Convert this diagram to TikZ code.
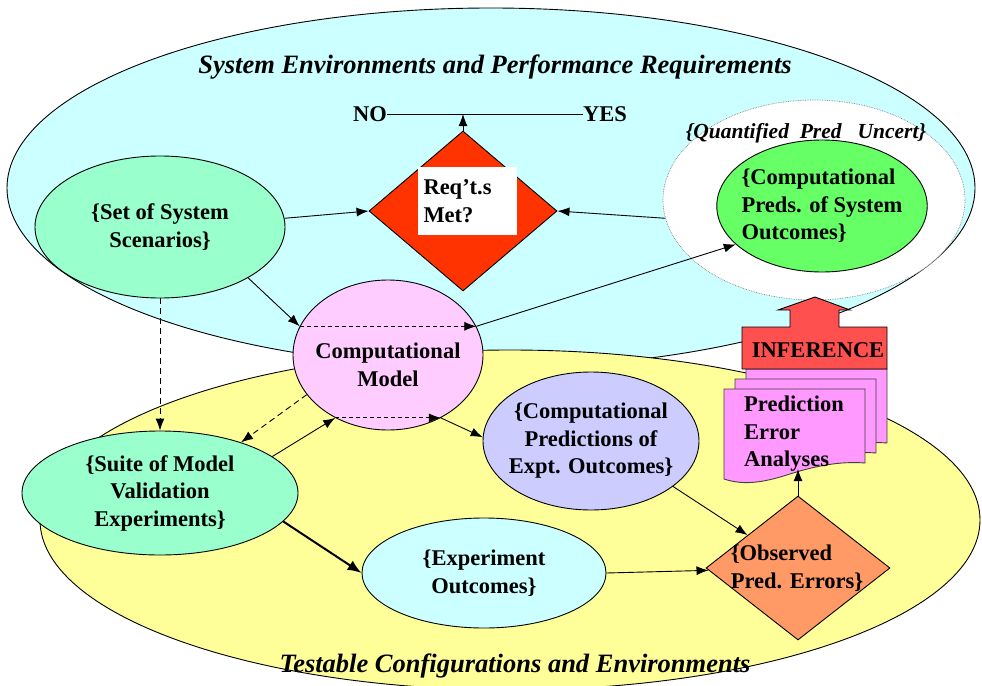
\documentclass[tikz,border=0pt]{standalone}
\usepackage{fontspec}
\setmainfont{Liberation Serif}
\usetikzlibrary{arrows, arrows.meta, shapes.geometric}

\definecolor{skyfill}{HTML}{CCFFFF}
\definecolor{sandfill}{HTML}{FFFF99}
\definecolor{mintfill}{HTML}{99FFCC}
\definecolor{pinkfill}{HTML}{FFCCFF}
\definecolor{limefill}{HTML}{66FF66}
\definecolor{lilacfill}{HTML}{CCCCFF}
\definecolor{redfill}{HTML}{FF3300}
\definecolor{peachfill}{HTML}{FF9966}
\definecolor{docfill}{HTML}{FF99FF}
\definecolor{inffill}{HTML}{FF5050}

\tikzset{
  txt/.style={font=\fontsize{22.5}{27.5}\selectfont\bfseries, inner sep=0pt},
  ttl/.style={font=\fontsize{26.5}{30}\selectfont\bfseries\itshape, inner sep=0pt},
  bubble/.style={txt, ellipse, draw, line width=0.9pt, inner sep=-6pt, align=center},
  arr/.style={-{Latex[length=12pt,width=9pt]}, line width=0.9pt},
  dsh/.style={arr, dash pattern=on 6pt off 4pt},
  inner/.style={arr, dash pattern=on 4pt off 3pt},
  docpage/.style={fill=docfill, draw=black!75, line width=0.9pt},
}

\begin{document}
\begin{tikzpicture}[x=1pt,y=-1pt]
\useasboundingbox (0,0) rectangle (982,685);
\fill[white] (0,0) rectangle (982,685);
\filldraw[fill=skyfill, line width=0.9pt] (491,188) ellipse [x radius=484pt, y radius=180pt]; %system envelope
\filldraw[fill=sandfill, line width=0.9pt] (510,520) ellipse [x radius=470pt, y radius=170pt]; %testable envelope
\node[ellipse, fill=white, draw=gray, densely dotted, line width=0.7pt, minimum width=302pt, minimum height=200pt, inner sep=0pt] (unc) at (814,200) {}; %uncertainty halo

\node[ttl] (systitle) at (495,67) {System Environments and Performance Requirements};
\node[ttl] (testtitle) at (515,666) {Testable Configurations and Environments};
\node[font=\fontsize{21.5}{25}\selectfont\bfseries\itshape, inner sep=0pt] (unclbl) at (806,133) {\{Quantified\ \ Pred\ \ \ Uncert\}};

% decision
\node[txt] (no) at (370,114) {NO};
\node[txt] (yes) at (605,114) {YES};
\node[diamond, fill=redfill, draw, line width=0.9pt, minimum width=188pt, minimum height=160pt, inner sep=0pt] (req) at (463,211) {};
\node[txt, fill=white, minimum width=99pt, minimum height=68pt, text width=87pt, align=left] (reqbox) at (467,201) {Req’t.s\\Met?};

% ellipses
\node[bubble, fill=mintfill, minimum width=250pt, minimum height=142pt] (set) at (160,227) {\{Set of System\\Scenarios\}};
\node[bubble, fill=mintfill, minimum width=276pt, minimum height=124pt] (suite) at (160,493) {\{Suite of Model\\Validation\\Experiments\}};
\node[bubble, fill=pinkfill, minimum width=190pt, minimum height=150pt] (model) at (388,355) {};
\node[txt, align=center] (modellbl) at (388,365) {Computational\\Model};
\node[bubble, fill=lilacfill, minimum width=216pt, minimum height=138pt] (predexp) at (591,441) {\{Computational\\Predictions of\\Expt. Outcomes\}};
\node[bubble, fill=skyfill, minimum width=244pt, minimum height=110pt] (expout) at (484,573) {\{Experiment\\Outcomes\}};
\node[bubble, fill=limefill, minimum width=206pt, minimum height=132pt, align=left] (preds) at (822,206) {\{Computational\\Preds. of System\\Outcomes\}};
\node[diamond, fill=peachfill, draw, line width=0.9pt, minimum width=184pt, minimum height=144pt, inner sep=0pt] (obs) at (798,568) {};
\node[txt, align=left] (obslbl) at (797,568) {\{Observed\\Pred. Errors\}};

% stacked analyses pages
\draw[docpage, shift={(22,-20)}] (724,389) -- (865,389) -- (865,463) .. controls (840,461) and (815,466) .. (790,474) .. controls (765,482) and (745,486) .. (724,479) -- cycle;
\draw[docpage, shift={(11,-10)}] (724,389) -- (865,389) -- (865,463) .. controls (840,461) and (815,466) .. (790,474) .. controls (765,482) and (745,486) .. (724,479) -- cycle;
\draw[docpage] (724,389) -- (865,389) -- (865,463) .. controls (840,461) and (815,466) .. (790,474) .. controls (765,482) and (745,486) .. (724,479) -- cycle;
\node[txt, anchor=west, align=left] (pea) at (744,434) {Prediction\\Error\\Analyses};
\coordinate (peabot) at (798,469);

% inference block arrow
\draw[fill=inffill, line width=0.9pt] (742,369) -- (742,327) -- (790,327) -- (790,310) -- (778,310) -- (815,297) -- (850,310) -- (839,310) -- (839,327) -- (887,327) -- (887,369) -- cycle;
\node[txt] (inf) at (818,350) {INFERENCE};

% connectors
\draw[line width=0.9pt] (no) -- (yes);
\draw[arr] (req.north) -- (req.north |- no);
\draw[arr] (set.4) -- (req.west);
\draw[arr] (unc.187) -- (req.east);
\draw[arr] (set.-30) -- (model.162);
\draw[inner] (model.162) -- (model.18);
\draw[arr] (model.18) -- (preds.204);
\draw[dsh] (set.south) -- (suite.north);
\draw[dsh] (model.206) -- (suite.32);
\draw[arr] (suite.18) -- (model.230);
\draw[inner] (model.230) -- (model.310);
\draw[arr] (model.310) -- (predexp.178);
\draw[-{Latex[length=14pt,width=11pt]}, line width=2pt] (suite.-13) -- (expout.west);
\draw[arr] (expout.east) -- (obs);
\draw[arr] (predexp.-29) -- (obs);
\draw[arr] (obs.north) -- (peabot);
\end{tikzpicture}
\end{document}
